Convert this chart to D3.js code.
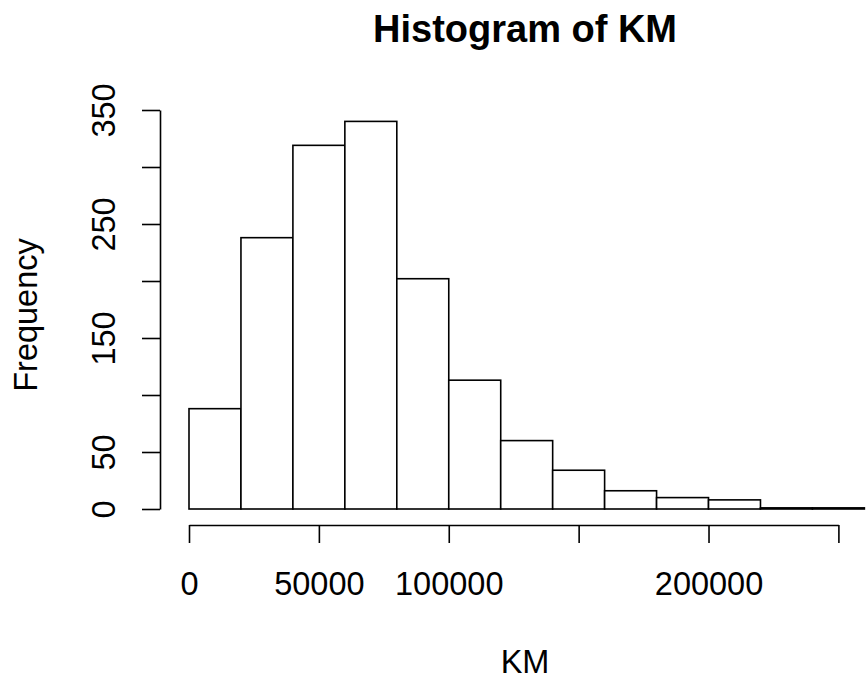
<!DOCTYPE html>
<html>
<head>
<meta charset="utf-8">
<script src="https://cdn.jsdelivr.net/npm/d3@7/dist/d3.min.js"></script>
<style>
  html, body { margin: 0; padding: 0; background: #fff; }
  svg { display: block; }
  text { font-family: "Liberation Sans", Arial, sans-serif; fill: #000; }
</style>
</head>
<body>
<script>
// Histogram of KM: bin edges and counts
const breaks = [0, 20000, 40000, 60000, 80000, 100000, 120000, 140000,
                160000, 180000, 200000, 220000, 240000, 260000];
const counts = [88, 238, 319, 340, 202, 113, 60, 34, 16, 10, 8, 1, 1];

const xTicks = [0, 50000, 100000, 150000, 200000, 250000];
const xTickLabels = ["0", "50000", "100000", "", "200000", ""];
const yTicks = [0, 50, 100, 150, 200, 250, 300, 350];
const yTickLabels = ["0", "50", "", "150", "", "250", "", "350"];

const W = 867, H = 683;

const svg = d3.select("body").append("svg")
  .attr("width", W).attr("height", H);

const x = d3.scaleLinear().domain([0, 250000]).range([189, 838.4]);
const y = d3.scaleLinear().domain([0, 350]).range([509, 110]);

const bins = counts.map((c, i) => ({ x0: breaks[i], x1: breaks[i + 1], n: c }));

// bars
svg.append("g")
  .selectAll("rect")
  .data(bins)
  .join("rect")
  .attr("x", d => x(d.x0))
  .attr("y", d => y(d.n))
  .attr("width", d => x(d.x1) - x(d.x0))
  .attr("height", d => y(0) - y(d.n))
  .attr("fill", "#fff")
  .attr("stroke", "#000")
  .attr("stroke-width", 1.6);

// x axis
const xAxis = svg.append("g")
  .attr("transform", "translate(0,525)")
  .call(d3.axisBottom(x)
    .tickValues(xTicks)
    .tickSize(18)
    .tickSizeOuter(0)
    .tickFormat((d, i) => xTickLabels[i]));
xAxis.select(".domain").attr("stroke", "#000").attr("stroke-width", 1.6);
xAxis.selectAll(".tick line").attr("stroke", "#000").attr("stroke-width", 1.6);
xAxis.selectAll(".tick text")
  .attr("y", 70).attr("dy", 0)
  .style("font-size", "32.5px")
  .attr("fill", "#000");

// y axis
const yAxis = svg.append("g")
  .attr("transform", "translate(160,0)")
  .call(d3.axisLeft(y)
    .tickValues(yTicks)
    .tickSize(18)
    .tickSizeOuter(0)
    .tickFormat((d, i) => yTickLabels[i]));
yAxis.select(".domain").attr("stroke", "#000").attr("stroke-width", 1.6);
yAxis.selectAll(".tick line").attr("stroke", "#000").attr("stroke-width", 1.6);
yAxis.selectAll(".tick text")
  .attr("x", 0).attr("y", 0).attr("dy", 0)
  .attr("transform", "translate(-45,0) rotate(-90)")
  .attr("text-anchor", "middle")
  .style("font-size", "32.5px")
  .attr("fill", "#000");

// title and axis titles
svg.append("text")
  .attr("x", 525).attr("y", 42)
  .attr("text-anchor", "middle")
  .style("font-size", "38px")
  .style("font-weight", "bold")
  .text("Histogram of KM");

svg.append("text")
  .attr("x", 525).attr("y", 673)
  .attr("text-anchor", "middle")
  .style("font-size", "32.5px")
  .text("KM");

svg.append("text")
  .attr("transform", "translate(37,315) rotate(-90)")
  .attr("text-anchor", "middle")
  .style("font-size", "32.5px")
  .text("Frequency");
</script>
</body>
</html>
